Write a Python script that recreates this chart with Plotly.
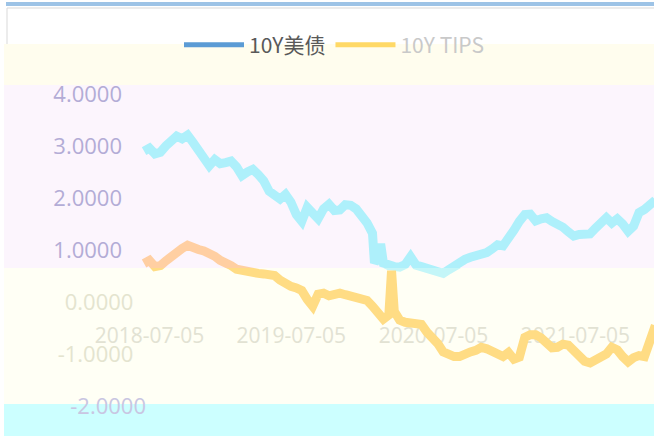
import plotly.graph_objects as go
import pandas as pd

# ---------------- data ----------------
dates = [
    "2018-06-21", "2018-07-05", "2018-07-19", "2018-08-02", "2018-08-16", "2018-08-30",
    "2018-09-13", "2018-09-27", "2018-10-11", "2018-10-25", "2018-11-08", "2018-11-22",
    "2018-12-06", "2018-12-20",
    "2019-01-03", "2019-01-17", "2019-01-31", "2019-02-14", "2019-02-28", "2019-03-14",
    "2019-03-28", "2019-04-11", "2019-04-25", "2019-05-09", "2019-05-23", "2019-06-06",
    "2019-06-20", "2019-07-04", "2019-07-18", "2019-08-01", "2019-08-15", "2019-08-29",
    "2019-09-12", "2019-09-26", "2019-10-10", "2019-10-24", "2019-11-07", "2019-11-21",
    "2019-12-05", "2019-12-19",
    "2020-01-02", "2020-01-16", "2020-01-30", "2020-02-04", "2020-02-13", "2020-02-20",
    "2020-02-27", "2020-03-12", "2020-03-19", "2020-03-26", "2020-04-09", "2020-04-23",
    "2020-05-07", "2020-05-21", "2020-06-04", "2020-06-18", "2020-07-02", "2020-07-16",
    "2020-07-30", "2020-08-13", "2020-08-27", "2020-09-10", "2020-09-24", "2020-10-08",
    "2020-10-22", "2020-11-05", "2020-11-19", "2020-12-03", "2020-12-17", "2020-12-31",
    "2021-01-14", "2021-01-28", "2021-02-11", "2021-02-25", "2021-03-11", "2021-03-25",
    "2021-04-08", "2021-04-22", "2021-05-06", "2021-05-20", "2021-06-03", "2021-06-17",
    "2021-07-01", "2021-07-15", "2021-07-29", "2021-08-12", "2021-08-26", "2021-09-09",
    "2021-09-23", "2021-10-07", "2021-10-21", "2021-11-04", "2021-11-18", "2021-12-02",
    "2021-12-16", "2021-12-30",
    "2022-01-13", "2022-01-27",
]

us10y = [
    2.90, 2.96, 2.85, 2.88, 3.00, 3.10, 3.19, 3.14, 3.21, 3.07, 2.92, 2.80, 2.62, 2.74,
    2.66, 2.68, 2.71, 2.60, 2.43, 2.50, 2.55, 2.45, 2.33, 2.13, 2.05, 1.98, 2.07, 1.92,
    1.68, 1.55, 1.82, 1.70, 1.60, 1.79, 1.88, 1.76, 1.77, 1.87, 1.86, 1.79,
    1.68, 1.52, 1.32, 0.75, 0.85, 1.12, 0.75, 0.70, 0.69, 0.68, 0.67, 0.72, 0.87, 0.71,
    0.68, 0.65, 0.63, 0.60, 0.55, 0.62, 0.70, 0.75, 0.82, 0.86, 0.88, 0.92, 0.95, 1.02,
    1.10, 1.08,
    1.20, 1.38, 1.55, 1.68, 1.69, 1.56, 1.60, 1.62, 1.55, 1.50, 1.44, 1.35, 1.27, 1.30,
    1.32, 1.31, 1.42, 1.55, 1.62, 1.52, 1.60, 1.50, 1.36, 1.46, 1.72, 1.78,
    1.88, 1.96,
]

tips10y = [
    0.74, 0.80, 0.68, 0.70, 0.79, 0.88, 0.97, 1.03, 1.09, 1.07, 1.01, 0.98, 0.94, 0.88,
    0.80, 0.76, 0.70, 0.63, 0.60, 0.60, 0.58, 0.55, 0.54, 0.52, 0.51, 0.42, 0.35, 0.30,
    0.27, 0.22, 0.05, -0.08, 0.15, 0.17, 0.12, 0.15, 0.17, 0.14, 0.12, 0.10,
    0.09, 0.03, -0.08, -0.12, -0.18, -0.25, -0.33, -0.25, 0.60, -0.18, -0.35, -0.39,
    -0.41, -0.42, -0.43, -0.58, -0.68, -0.80, -0.96, -1.02, -1.05, -1.05, -0.99, -0.96,
    -0.93, -0.87, -0.90, -0.94, -1.00, -1.05,
    -0.97, -1.10, -1.06, -0.68, -0.63, -0.63, -0.69, -0.80, -0.88, -0.87, -0.81, -0.83,
    -0.92, -1.02, -1.14, -1.17, -1.12, -1.05, -1.00, -0.87, -0.92, -1.05, -1.15, -1.07,
    -1.03, -1.05,
    -0.75, -0.45,
]

series_names = ["10Y美债", "10Y TIPS"]
x_tick_labels = ["2018-07-05", "2019-07-05", "2020-07-05", "2021-07-05"]
y_ticks_upper = [1, 2, 3, 4]
y_ticks_lower = [-2, -1, 0]

assert len(dates) == len(us10y) == len(tips10y)

# ---------------- layout geometry (pixels of a 654 x 436 page) ----------------
W, H = 654, 436
px_per_day = 0.3885
anchor_px = 149.5                      # where the first date tick sits
x_left_px = 130
ref = pd.Timestamp("2018-07-05")
x_start = ref - pd.Timedelta(days=(anchor_px - x_left_px) / px_per_day)
x_end = ref + pd.Timedelta(days=(W - anchor_px) / px_per_day)

px_per_unit = 52.0
zero_px = 302.0
split_px = 268.0       # boundary between pink and pale-yellow bands
top_px = 85.0

def val_at(py):
    return (zero_px - py) / px_per_unit

def fy(py):
    return (H - py) / H

TICK_FONT = "Open Sans"
LW = 9

fig = go.Figure()

# data traces: upper band (pink) and lower band (pale yellow) each get their own y axis
fig.add_trace(go.Scatter(x=dates, y=us10y, mode="lines", yaxis="y",
                         line=dict(color="#aef0fb", width=LW), showlegend=False,
                         hoverinfo="skip"))
fig.add_trace(go.Scatter(x=dates, y=tips10y, mode="lines", yaxis="y",
                         line=dict(color="#ffcfa2", width=LW), showlegend=False,
                         hoverinfo="skip"))
fig.add_trace(go.Scatter(x=dates, y=us10y, mode="lines", yaxis="y2",
                         line=dict(color="#c4f6f8", width=LW), showlegend=False,
                         hoverinfo="skip"))
fig.add_trace(go.Scatter(x=dates, y=tips10y, mode="lines", yaxis="y2",
                         line=dict(color="#ffdc84", width=LW), showlegend=False,
                         hoverinfo="skip"))

# legend entries
fig.add_trace(go.Scatter(x=[None], y=[None], mode="lines", name=series_names[0],
                         line=dict(color="#5b9bd5", width=5)))
fig.add_trace(go.Scatter(x=[None], y=[None], mode="lines",
                         name="<span style='color:#c9c9c9'>" + series_names[1] + "</span>",
                         line=dict(color="#ffd966", width=5)))

lav = "#b3acd6"
lower_text = []
for v in y_ticks_lower:
    s = f"{v:.4f}"
    if v == -2:
        lower_text.append("<span style='color:#c9c6e2'>" + s + "</span>")
    else:
        lower_text.append(s + "\u2007")

shapes = [
    # top blue stripe and chart frame
    dict(type="rect", xref="paper", yref="paper", x0=6 / W, x1=1, y0=fy(6), y1=fy(2),
         fillcolor="#9dc3e6", line_width=0, layer="below"),
    dict(type="line", xref="paper", yref="paper", x0=7 / W, x1=1, y0=fy(8), y1=fy(8),
         line=dict(color="#d9d9d9", width=1), layer="below"),
    dict(type="line", xref="paper", yref="paper", x0=7 / W, x1=7 / W, y0=fy(44), y1=fy(8),
         line=dict(color="#d9d9d9", width=1), layer="below"),
    # colour bands
    dict(type="rect", xref="paper", yref="paper", x0=4 / W, x1=1, y0=fy(top_px), y1=fy(44),
         fillcolor="#fffdee", line_width=0, layer="below"),
    dict(type="rect", xref="paper", yref="paper", x0=4 / W, x1=1, y0=fy(split_px), y1=fy(top_px),
         fillcolor="#fcf5fd", line_width=0, layer="below"),
    dict(type="rect", xref="paper", yref="paper", x0=4 / W, x1=1, y0=fy(404), y1=fy(split_px),
         fillcolor="#fffff5", line_width=0, layer="below"),
    dict(type="rect", xref="paper", yref="paper", x0=4 / W, x1=1, y0=0, y1=fy(404),
         fillcolor="#ccffff", line_width=0, layer="below"),
]

fig.update_layout(
    width=W, height=H,
    margin=dict(l=0, r=0, t=0, b=0),
    paper_bgcolor="white",
    plot_bgcolor="rgba(0,0,0,0)",
    shapes=shapes,
    xaxis=dict(
        type="date", domain=[x_left_px / W, 1], range=[x_start, x_end],
        anchor="free", position=fy(321),
        tickvals=x_tick_labels, ticktext=x_tick_labels,
        tickfont=dict(family=TICK_FONT, size=21, color="#e2e2d3"),
        showgrid=False, zeroline=False, showline=False, ticks="",
        layer="below traces", automargin=False,
    ),
    yaxis=dict(
        domain=[fy(split_px), fy(top_px)],
        range=[val_at(split_px), val_at(top_px)],
        anchor="free", position=122 / W,
        tickvals=y_ticks_upper, ticktext=[f"{v:.4f}" for v in y_ticks_upper],
        tickfont=dict(family=TICK_FONT, size=22, color=lav),
        showgrid=False, zeroline=False, showline=False, ticks="", automargin=False,
    ),
    yaxis2=dict(
        domain=[0, fy(split_px)],
        range=[val_at(H), val_at(split_px)],
        anchor="free", position=146 / W,
        tickvals=y_ticks_lower, ticktext=lower_text,
        tickfont=dict(family=TICK_FONT, size=22, color="#e4e4cf"),
        showgrid=False, zeroline=False, showline=False, ticks="", automargin=False,
    ),
    legend=dict(
        orientation="h", x=334 / W, xanchor="center", y=fy(45), yanchor="middle",
        font=dict(family="Noto Sans CJK SC", size=21, color="#595959"),
        bgcolor="rgba(0,0,0,0)", itemwidth=60,
    ),
    showlegend=True,
)

fig.write_html(
    "out.html",
    config={"displayModeBar": False},
    post_script="document.body.style.margin='0px';document.body.style.padding='0px';",
)
